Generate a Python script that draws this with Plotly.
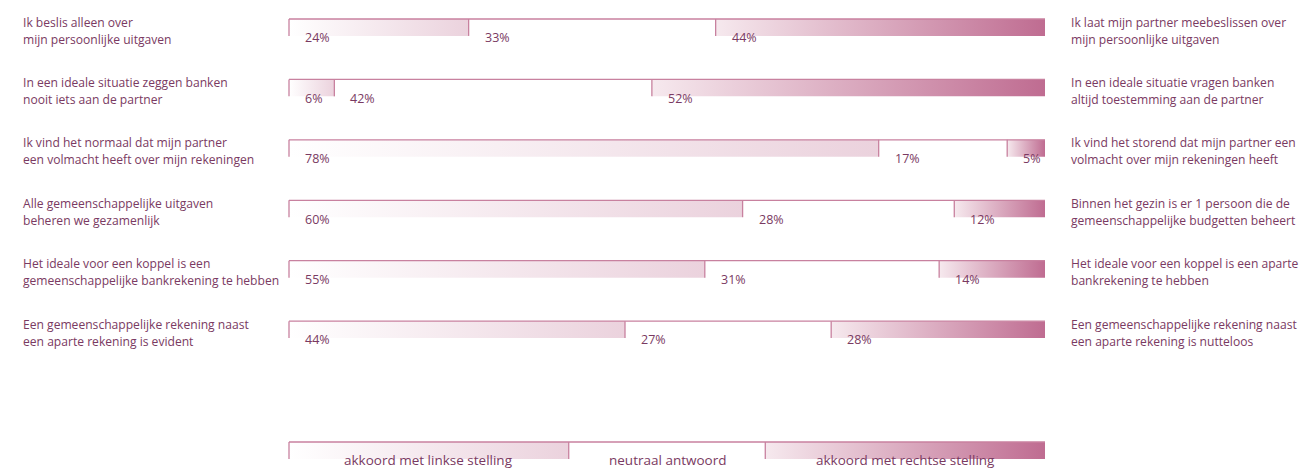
import plotly.graph_objects as go

# Survey statements (left / right pole), one entry per text line, and answer shares in percent
left_statements = [
    ("Ik beslis alleen over", "mijn persoonlijke uitgaven"),
    ("In een ideale situatie zeggen banken", "nooit iets aan de partner"),
    ("Ik vind het normaal dat mijn partner", "een volmacht heeft over mijn rekeningen"),
    ("Alle gemeenschappelijke uitgaven", "beheren we gezamenlijk"),
    ("Het ideale voor een koppel is een", "gemeenschappelijke bankrekening te hebben"),
    ("Een gemeenschappelijke rekening naast", "een aparte rekening is evident"),
]
right_statements = [
    ("Ik laat mijn partner meebeslissen over", "mijn persoonlijke uitgaven"),
    ("In een ideale situatie vragen banken", "altijd toestemming aan de partner"),
    ("Ik vind het storend dat mijn partner een", "volmacht over mijn rekeningen heeft"),
    ("Binnen het gezin is er 1 persoon die de", "gemeenschappelijke budgetten beheert"),
    ("Het ideale voor een koppel is een aparte", "bankrekening te hebben"),
    ("Een gemeenschappelijke rekening naast", "een aparte rekening is nutteloos"),
]
agree_left = [24, 6, 78, 60, 55, 44]
neutral = [33, 42, 17, 28, 31, 27]
agree_right = [44, 52, 5, 12, 14, 28]

legend_labels = ["akkoord met linkse stelling", "neutraal antwoord", "akkoord met rechtse stelling"]
legend_shares = [37, 26, 37]

# Styling
TEXT = "#7a3a62"
LINE = "#c8819f"
FONT = "Open Sans"
GRAD = [
    [[0, "#ffffff"], [1, "#ebd2dd"]],   # agree with left statement
    [[0, "#ffffff"], [1, "#ffffff"]],   # neutral
    [[0, "#f6e9ee"], [1, "#bf6c91"]],   # agree with right statement
]
BAR_H = 0.28
LEGEND_ROW = 7
ROW_PX = 60.43
TOP_PX = 19
STMT_SIZE = 12.1

fig = go.Figure()


def add_bar(row, values, labels, label_size, centered):
    total = float(sum(values))
    edges = [0.0]
    for v in values:
        edges.append(edges[-1] + v / total * 100.0)
    for i in range(len(values)):
        x0, x1 = edges[i], edges[i + 1]
        fig.add_trace(go.Scatter(
            x=[x0, x1, x1, x0, x0],
            y=[row, row, row + BAR_H, row + BAR_H, row],
            mode="none", fill="toself",
            fillgradient=dict(type="horizontal", colorscale=GRAD[i]),
            hoverinfo="skip", showlegend=False,
        ))
        # left edge of each segment
        fig.add_trace(go.Scatter(
            x=[x0, x0], y=[row, row + BAR_H], mode="lines",
            line=dict(color=LINE, width=1.3),
            hoverinfo="skip", showlegend=False,
        ))
        if centered:
            fig.add_annotation(
                x=(x0 + x1) / 2, y=row + BAR_H + 0.02, text=labels[i],
                xref="x", yref="y", xanchor="center", yanchor="middle",
                showarrow=False, font=dict(family=FONT, size=label_size, color=TEXT),
            )
        else:
            fig.add_annotation(
                x=x0, y=row + 0.31, text=labels[i], xshift=14,
                xref="x", yref="y", xanchor="left", yanchor="middle",
                showarrow=False, font=dict(family=FONT, size=label_size, color=TEXT),
            )
    # top border across the whole bar
    fig.add_trace(go.Scatter(
        x=[0, 100], y=[row, row], mode="lines",
        line=dict(color=LINE, width=1.3),
        hoverinfo="skip", showlegend=False,
    ))


def add_statement(x_px, row, lines):
    for k, line in enumerate(lines):
        fig.add_annotation(
            x=x_px / 1309, y=row + (3 + 17 * k) / ROW_PX, text=line,
            xref="paper", yref="y", xanchor="left", yanchor="middle", align="left",
            showarrow=False, font=dict(family=FONT, size=STMT_SIZE, color=TEXT),
        )


for r in range(len(agree_left)):
    vals = [agree_left[r], neutral[r], agree_right[r]]
    add_bar(r, vals, [f"{v}%" for v in vals], 12.5, False)
    add_statement(21, r, left_statements[r])
    add_statement(1069, r, right_statements[r])

add_bar(LEGEND_ROW, legend_shares, legend_labels, 13.5, True)

fig.update_layout(
    width=1309, height=470,
    margin=dict(l=0, r=0, t=0, b=0),
    paper_bgcolor="white", plot_bgcolor="white",
    xaxis=dict(range=[-289 / 7.56, (1309 - 289) / 7.56], visible=False, fixedrange=True),
    yaxis=dict(range=[(470 - TOP_PX) / ROW_PX, -TOP_PX / ROW_PX], visible=False, fixedrange=True),
    hovermode=False,
)

fig.write_html("out.html")
